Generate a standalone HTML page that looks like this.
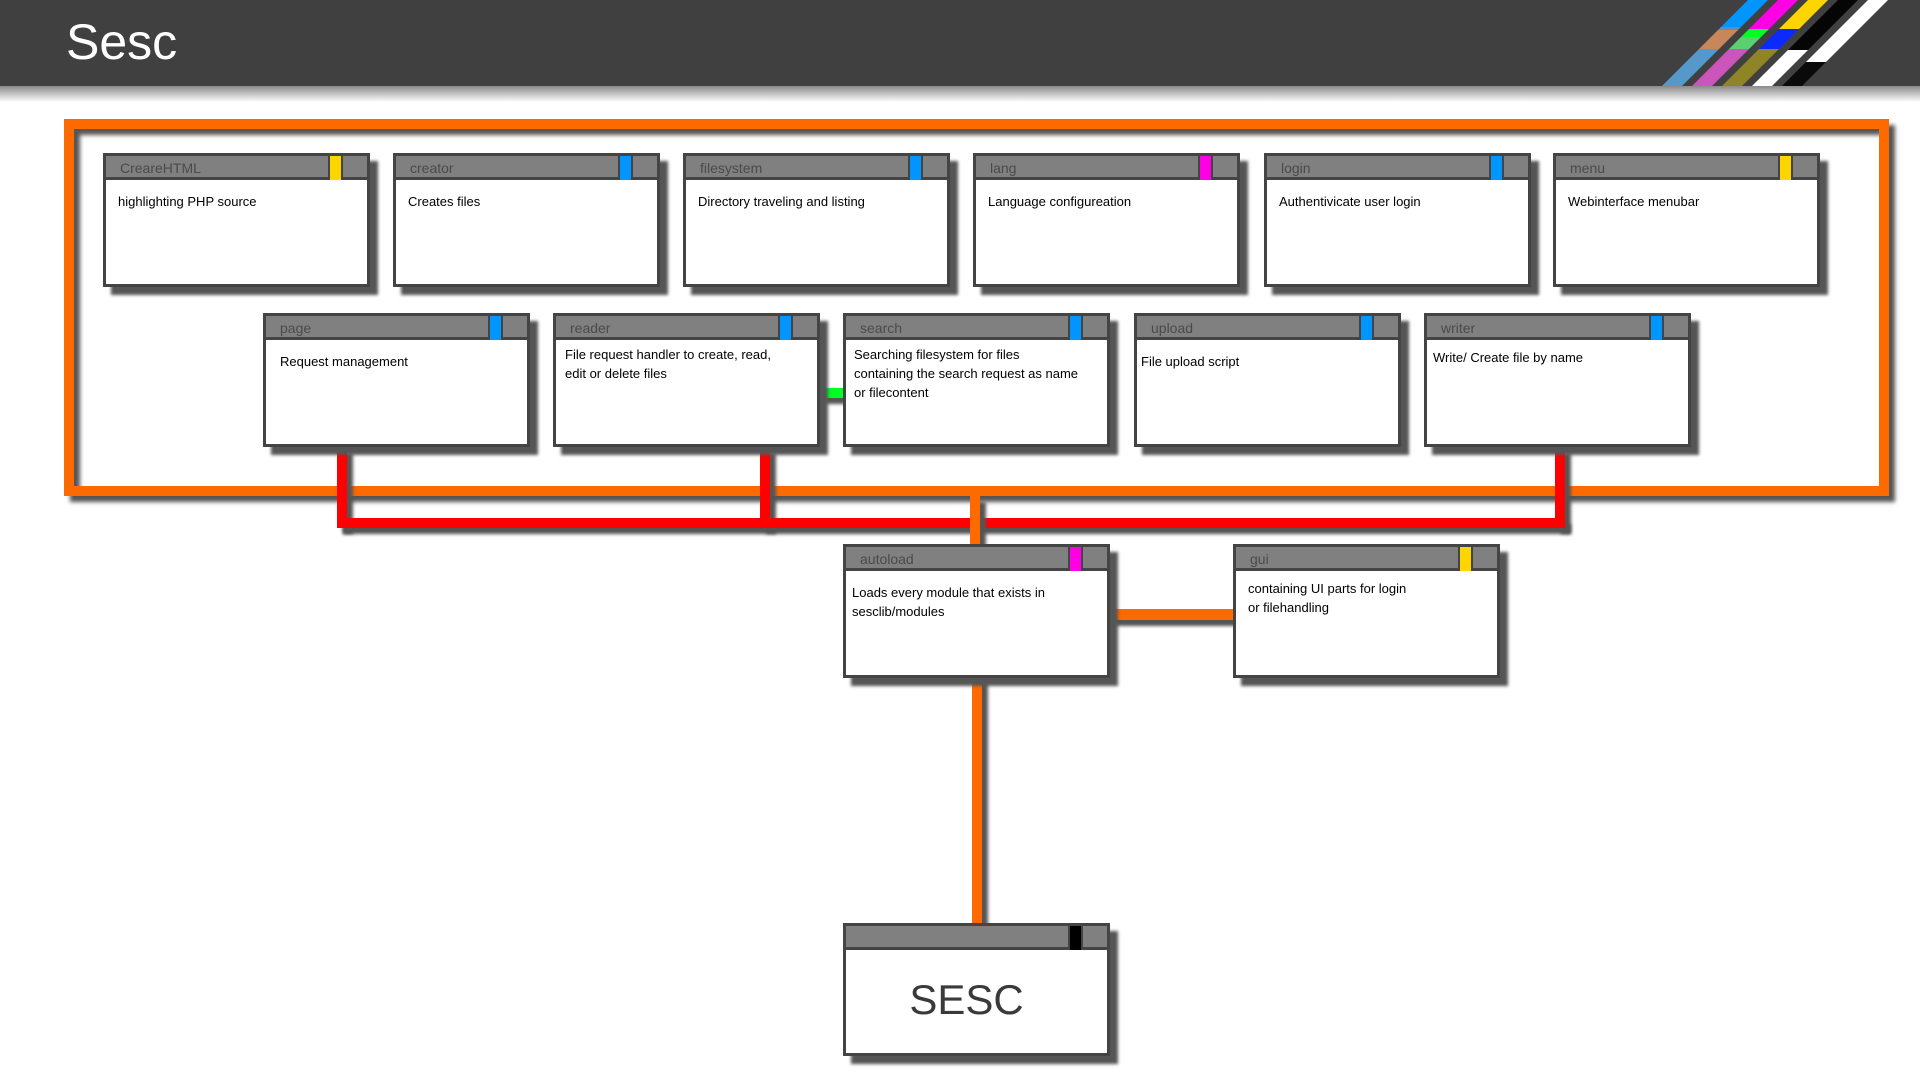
<!DOCTYPE html>
<html><head><meta charset="utf-8">
<style>
*{margin:0;padding:0;box-sizing:border-box}
body{width:1920px;height:1080px;background:#fff;position:relative;overflow:hidden;font-family:"Liberation Sans",sans-serif}
#hdr{position:absolute;left:0;top:0;width:1920px;height:86px;background:#404040}
#hsh{position:absolute;left:0;top:86px;width:1920px;height:16px;background:linear-gradient(#8a8a8a,#fff)}
#title{position:absolute;left:66px;top:13px;color:#fff;font-size:50px;font-weight:normal}
.frame{position:absolute;left:64px;top:119px;width:1825px;height:377px;border:10px solid #ff6a00;box-shadow:6px 6px 4px #555, inset 6px 6px 4px #555}
.l{position:absolute;box-shadow:6px 6px 3px #555}
.or{background:#ff6a00}.rd{background:#ff0000}.gr{background:#00ff22}
.box{position:absolute;width:267px;height:134px;border:3px solid #444;background:#fff;box-shadow:8px 8px 3px #555}
.box .h{position:absolute;left:0;top:0;right:0;height:24px;background:#808080;border-bottom:3px solid #444;color:#4a4a4a;font-size:14px;line-height:24px;padding-left:14px}
.box .t{position:absolute;top:0;right:24px;width:15px;height:24px;border-left:2px solid #444;border-right:2px solid #444}
.box .b{position:absolute;left:12px;top:36px;right:2px;font-size:13px;line-height:19px;color:#000;white-space:nowrap}
</style></head><body>
<div id="hdr"></div><div id="hsh"></div>
<div id="title">Sesc</div>
<svg style="position:absolute;left:0;top:0" width="1920" height="86">
<g transform="skewX(-45)">
<rect x="1748" y="0" width="20" height="27" fill="#0095ff"/>
<rect x="1748" y="27" width="20" height="4" fill="#5a8fbf"/>
<rect x="1748" y="30" width="20" height="19" fill="#c8875a"/>
<rect x="1748" y="49" width="20" height="37" fill="#5599cc"/>
<rect x="1778" y="0" width="20" height="29" fill="#ff00e6"/>
<rect x="1778" y="29" width="20" height="8" fill="#00ff22"/>
<rect x="1778" y="37" width="20" height="12" fill="#5ad070"/>
<rect x="1778" y="49" width="20" height="37" fill="#cc55bb"/>
<rect x="1808" y="0" width="20" height="29" fill="#ffd500"/>
<rect x="1808" y="29" width="20" height="20" fill="#0a2aff"/>
<rect x="1808" y="49" width="20" height="37" fill="#8f8426"/>
<rect x="1838" y="0" width="20" height="50" fill="#050505"/>
<rect x="1838" y="50" width="20" height="36" fill="#fff"/>
<rect x="1868" y="0" width="20" height="62" fill="#fff"/>
<rect x="1868" y="62" width="20" height="24" fill="#0a0a0a"/>
</g></svg>

<div class="frame"></div>

<div class="l rd" style="left:337px;top:447px;width:10px;height:81px"></div>
<div class="l rd" style="left:760px;top:447px;width:10px;height:81px"></div>
<div class="l rd" style="left:1555px;top:447px;width:10px;height:81px"></div>
<div class="l rd" style="left:337px;top:518px;width:1228px;height:10px"></div>
<div class="l or" style="left:970px;top:496px;width:10px;height:50px"></div>
<div class="l or" style="left:1108px;top:609px;width:126px;height:11px"></div>
<div class="l or" style="left:972px;top:676px;width:10px;height:248px"></div>
<div class="l gr" style="left:819px;top:388px;width:25px;height:10px"></div>

<div class="box" style="left:103px;top:153px"><div class="h">CreareHTML</div><div class="t" style="background:#ffd500"></div><div class="b">highlighting PHP source</div></div>
<div class="box" style="left:393px;top:153px"><div class="h">creator</div><div class="t" style="background:#0095ff"></div><div class="b">Creates files</div></div>
<div class="box" style="left:683px;top:153px"><div class="h">filesystem</div><div class="t" style="background:#0095ff"></div><div class="b">Directory traveling and listing</div></div>
<div class="box" style="left:973px;top:153px"><div class="h">lang</div><div class="t" style="background:#ff00e6"></div><div class="b">Language configureation</div></div>
<div class="box" style="left:1264px;top:153px"><div class="h">login</div><div class="t" style="background:#0095ff"></div><div class="b">Authentivicate user login</div></div>
<div class="box" style="left:1553px;top:153px"><div class="h">menu</div><div class="t" style="background:#ffd500"></div><div class="b">Webinterface menubar</div></div>
<div class="box" style="left:263px;top:313px"><div class="h">page</div><div class="t" style="background:#0095ff"></div><div class="b" style="left:14px">Request management</div></div>
<div class="box" style="left:553px;top:313px"><div class="h">reader</div><div class="t" style="background:#0095ff"></div><div class="b" style="top:29px;left:9px">File request handler to create, read,<br>edit or delete files</div></div>
<div class="box" style="left:843px;top:313px"><div class="h">search</div><div class="t" style="background:#0095ff"></div><div class="b" style="top:29px;left:8px">Searching filesystem for files<br>containing the search request as name<br>or filecontent</div></div>
<div class="box" style="left:1134px;top:313px"><div class="h">upload</div><div class="t" style="background:#0095ff"></div><div class="b" style="left:4px">File upload script</div></div>
<div class="box" style="left:1424px;top:313px"><div class="h">writer</div><div class="t" style="background:#0095ff"></div><div class="b" style="left:6px;top:32px">Write/ Create file by name</div></div>
<div class="box" style="left:843px;top:544px"><div class="h">autoload</div><div class="t" style="background:#ff00e6"></div><div class="b" style="left:6px">Loads every module that exists in<br>sesclib/modules</div></div>
<div class="box" style="left:1233px;top:544px"><div class="h">gui</div><div class="t" style="background:#ffd500"></div><div class="b" style="top:32px">containing UI parts for login<br>or filehandling</div></div>
<div class="box" style="left:843px;top:923px;height:133px"><div class="h"></div><div class="t" style="background:#000"></div><div style="position:absolute;left:0;right:0;top:50px;text-align:center;font-size:42px;color:#3a3a3a;padding-right:20px">SESC</div></div>
</body></html>
